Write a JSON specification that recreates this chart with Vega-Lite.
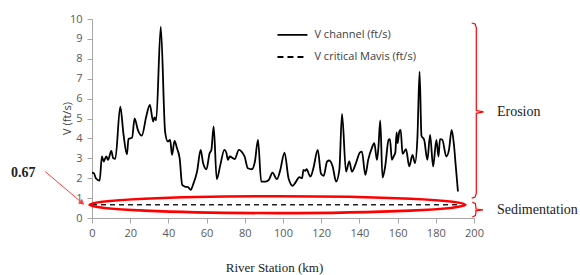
{
  "$schema": "https://vega.github.io/schema/vega-lite/v6.json",
  "width": 382,
  "height": 199,
  "autosize": {"type": "none"},
  "padding": {"left": 92, "top": 19, "right": 106, "bottom": 57},
  "background": "white",
  "config": {
    "view": {"stroke": null},
    "axis": {"labelOverlap": false, "labelFlush": false, "labelBound": false, "grid": false,
      "domainColor": "#A6A6A6", "tickColor": "#A6A6A6", "tickSize": 5,
      "labelColor": "#595959", "labelFont": "Open Sans", "labelFontSize": 11},
    "axisX": {"tickCount": 10, "labelPadding": 4},
    "axisY": {"tickCount": 10, "labelPadding": 5}
  },
  "datasets": {
    "vchannel": [
      {"km": 0, "v": 2.28}, {"km": 1.0, "v": 2.25}, {"km": 2.0, "v": 2.0}, {"km": 4.0, "v": 1.88},
      {"km": 5.2, "v": 3.1}, {"km": 6.1, "v": 2.84}, {"km": 7.5, "v": 3.1}, {"km": 8.4, "v": 2.92},
      {"km": 10.1, "v": 3.37}, {"km": 11.1, "v": 3.0}, {"km": 12.2, "v": 2.97}, {"km": 14.8, "v": 5.6},
      {"km": 16.5, "v": 4.2}, {"km": 18.3, "v": 3.2}, {"km": 19.1, "v": 3.97}, {"km": 21.0, "v": 4.04},
      {"km": 22.3, "v": 5.01}, {"km": 24.0, "v": 4.43}, {"km": 26.1, "v": 4.14}, {"km": 28.4, "v": 5.1},
      {"km": 30.3, "v": 5.68}, {"km": 32.0, "v": 4.85}, {"km": 32.7, "v": 5.05}, {"km": 33.6, "v": 4.91},
      {"km": 36.0, "v": 9.61}, {"km": 38.3, "v": 4.31}, {"km": 39.7, "v": 3.84}, {"km": 40.9, "v": 3.93},
      {"km": 41.9, "v": 3.17}, {"km": 43.2, "v": 3.88}, {"km": 44.5, "v": 3.5}, {"km": 45.9, "v": 3.0},
      {"km": 47.2, "v": 1.67}, {"km": 48.6, "v": 1.58}, {"km": 50.3, "v": 1.55}, {"km": 51.7, "v": 1.42},
      {"km": 52.9, "v": 1.67}, {"km": 55.0, "v": 2.33}, {"km": 56.9, "v": 3.42}, {"km": 58.1, "v": 2.79},
      {"km": 59.9, "v": 2.45}, {"km": 61.6, "v": 3.26}, {"km": 62.5, "v": 3.42}, {"km": 63.7, "v": 4.6},
      {"km": 65.3, "v": 1.95}, {"km": 67.2, "v": 2.67}, {"km": 69.3, "v": 3.42}, {"km": 70.3, "v": 3.29},
      {"km": 71.2, "v": 2.92}, {"km": 72.1, "v": 3.09}, {"km": 74.7, "v": 2.96}, {"km": 76.9, "v": 3.42},
      {"km": 78.3, "v": 3.34}, {"km": 79.9, "v": 3.09}, {"km": 81.6, "v": 2.5}, {"km": 83.7, "v": 2.45},
      {"km": 85.3, "v": 2.84}, {"km": 86.9, "v": 3.93}, {"km": 88.6, "v": 1.83}, {"km": 90.9, "v": 1.83},
      {"km": 92.6, "v": 1.92}, {"km": 94.5, "v": 2.28}, {"km": 96.8, "v": 1.95}, {"km": 98.5, "v": 2.38},
      {"km": 100.8, "v": 3.29}, {"km": 102.9, "v": 2.0}, {"km": 105.1, "v": 1.62}, {"km": 106.5, "v": 1.78},
      {"km": 108.6, "v": 2.05}, {"km": 110.0, "v": 2.0}, {"km": 110.7, "v": 2.42}, {"km": 111.6, "v": 2.37},
      {"km": 112.4, "v": 2.45}, {"km": 113.5, "v": 2.22}, {"km": 114.4, "v": 2.08}, {"km": 115.9, "v": 2.5},
      {"km": 118.2, "v": 3.42}, {"km": 119.9, "v": 2.22}, {"km": 121.3, "v": 2.12}, {"km": 123.1, "v": 2.84},
      {"km": 124.3, "v": 2.89}, {"km": 126.0, "v": 2.59}, {"km": 127.8, "v": 1.83}, {"km": 129.5, "v": 2.42},
      {"km": 130.9, "v": 5.23}, {"km": 133.0, "v": 2.33}, {"km": 134.7, "v": 2.84}, {"km": 136.1, "v": 2.33},
      {"km": 138.2, "v": 2.76}, {"km": 140.3, "v": 3.3}, {"km": 141.3, "v": 3.34}, {"km": 143.1, "v": 2.17},
      {"km": 144.6, "v": 2.92}, {"km": 146.5, "v": 3.51}, {"km": 147.8, "v": 3.76}, {"km": 149.2, "v": 2.92},
      {"km": 150.0, "v": 3.59}, {"km": 150.9, "v": 4.9}, {"km": 152.1, "v": 2.03}, {"km": 153.5, "v": 2.59},
      {"km": 155.3, "v": 3.93}, {"km": 156.0, "v": 3.96}, {"km": 157.0, "v": 2.92}, {"km": 157.9, "v": 3.09},
      {"km": 158.8, "v": 3.29}, {"km": 159.5, "v": 4.3}, {"km": 160.0, "v": 3.76}, {"km": 160.9, "v": 4.34},
      {"km": 161.6, "v": 4.43}, {"km": 162.6, "v": 3.22}, {"km": 164.4, "v": 3.46}, {"km": 166.1, "v": 2.59},
      {"km": 167.8, "v": 3.17}, {"km": 169.1, "v": 2.76}, {"km": 170.4, "v": 4.09}, {"km": 171.5, "v": 7.35},
      {"km": 172.5, "v": 4.13}, {"km": 173.9, "v": 3.93}, {"km": 175.6, "v": 2.92}, {"km": 177.0, "v": 4.18},
      {"km": 178.6, "v": 2.59}, {"km": 180.3, "v": 3.93}, {"km": 181.4, "v": 3.09}, {"km": 182.2, "v": 3.96},
      {"km": 183.4, "v": 3.93}, {"km": 185.5, "v": 3.09}, {"km": 186.9, "v": 3.42}, {"km": 188.3, "v": 4.43},
      {"km": 189.5, "v": 3.68}, {"km": 190.4, "v": 2.67}, {"km": 191.6, "v": 1.33}
    ],
    "vcritical": [{"km": 0, "v": 0.67}, {"km": 192, "v": 0.67}],
    "ellipse": [{"km": 97.1, "v": 0.67}],
    "legend": [
      {"km": 97.1, "km2": 112.8, "v": 9.2, "label": "V channel (ft/s)", "dash": "solid"},
      {"km": 97.1, "km2": 112.8, "v": 8.09, "label": "V critical Mavis (ft/s)", "dash": "dashed"}
    ],
    "arrow": [{"km": -24.5, "v": 2.33, "km2": -5.4, "v2": 0.78}],
    "arrowhead": [{"km": -5.2, "v": 0.76}],
    "braces": [
      {"brace": "e", "i": 1, "km": 198.8, "v": 9.8},
      {"brace": "e", "i": 2, "km": 200.6, "v": 9.75},
      {"brace": "e", "i": 3, "km": 201.2, "v": 9.55},
      {"brace": "e", "i": 4, "km": 201.2, "v": 5.4},
      {"brace": "e", "i": 5, "km": 205.0, "v": 5.33},
      {"brace": "e", "i": 6, "km": 201.2, "v": 5.26},
      {"brace": "e", "i": 7, "km": 201.2, "v": 1.25},
      {"brace": "e", "i": 8, "km": 200.6, "v": 1.05},
      {"brace": "e", "i": 9, "km": 198.8, "v": 1.0},
      {"brace": "s", "i": 1, "km": 199.1, "v": 0.8},
      {"brace": "s", "i": 2, "km": 200.7, "v": 0.72},
      {"brace": "s", "i": 3, "km": 201.0, "v": 0.55},
      {"brace": "s", "i": 4, "km": 201.0, "v": 0.45},
      {"brace": "s", "i": 5, "km": 204.7, "v": 0.41},
      {"brace": "s", "i": 6, "km": 201.0, "v": 0.37},
      {"brace": "s", "i": 7, "km": 201.0, "v": 0.25},
      {"brace": "s", "i": 8, "km": 200.7, "v": 0.12},
      {"brace": "s", "i": 9, "km": 199.1, "v": 0.05}
    ],
    "labels": [
      {"km": 212.0, "v": 5.33, "text": "Erosion"},
      {"km": 212.0, "v": 0.41, "text": "Sedimentation"}
    ],
    "bold": [{"km": -36, "v": 2.25, "text": "0.67"}]
  },
  "layer": [
    {
      "data": {"name": "vchannel"},
      "mark": {"type": "line", "color": "#000000", "strokeWidth": 1.8, "interpolate": "monotone"},
      "encoding": {
        "x": {
          "field": "km", "type": "quantitative",
          "scale": {"domain": [0, 200], "nice": false, "zero": false},
          "axis": {
            "title": "River Station (km)", "tickCount": 10,
            "titleFont": "Liberation Serif", "titleFontSize": 13, "titleFontWeight": "normal", "titleColor": "#222222",
            "titleX": 182, "titleY": 49, "titleBaseline": "middle", "titleAnchor": "middle"
          }
        },
        "y": {
          "field": "v", "type": "quantitative",
          "scale": {"domain": [0, 10], "nice": false},
          "axis": {
            "title": "V (ft/s)", "tickCount": 10, "labelOverlap": false,
            "titleFont": "Open Sans", "titleFontSize": 11, "titleFontWeight": "normal", "titleColor": "#404040",
            "titleX": -25, "titleY": 99, "titleBaseline": "middle", "titleAnchor": "middle"
          }
        }
      }
    },
    {
      "data": {"name": "vcritical"},
      "mark": {"type": "line", "color": "#222222", "strokeWidth": 1.5, "strokeDash": [5, 4]},
      "encoding": {
        "x": {"field": "km", "type": "quantitative"},
        "y": {"field": "v", "type": "quantitative"}
      }
    },
    {
      "data": {"name": "ellipse"},
      "mark": {
        "type": "point", "filled": false, "stroke": "#FF0000", "strokeWidth": 2.6, "opacity": 1,
        "shape": "M-1,0C-1,-0.0248,-0.552,-0.045,0,-0.045C0.552,-0.045,1,-0.0248,1,0C1,0.0248,0.552,0.045,0,0.045C-0.552,0.045,-1,0.0248,-1,0Z",
        "size": 141376
      },
      "encoding": {
        "x": {"field": "km", "type": "quantitative"},
        "y": {"field": "v", "type": "quantitative"}
      }
    },
    {
      "data": {"name": "legend"},
      "mark": {"type": "rule", "color": "#000000", "strokeWidth": 1.8},
      "encoding": {
        "x": {"field": "km", "type": "quantitative"},
        "x2": {"field": "km2"},
        "y": {"field": "v", "type": "quantitative"},
        "strokeDash": {
          "field": "dash", "type": "nominal",
          "scale": {"domain": ["solid", "dashed"], "range": [[1, 0], [6, 4]]},
          "legend": null
        }
      }
    },
    {
      "data": {"name": "legend"},
      "mark": {"type": "text", "align": "left", "baseline": "middle", "font": "Open Sans", "fontSize": 11, "color": "#404040", "dx": 7},
      "encoding": {
        "x": {"field": "km2", "type": "quantitative"},
        "y": {"field": "v", "type": "quantitative"},
        "text": {"field": "label"}
      }
    },
    {
      "data": {"name": "arrow"},
      "mark": {"type": "rule", "color": "#FF4040", "strokeWidth": 1},
      "encoding": {
        "x": {"field": "km", "type": "quantitative"},
        "x2": {"field": "km2"},
        "y": {"field": "v", "type": "quantitative"},
        "y2": {"field": "v2"}
      }
    },
    {
      "data": {"name": "arrowhead"},
      "mark": {"type": "point", "shape": "triangle-right", "filled": true, "color": "#FF4040", "size": 40, "angle": 40, "opacity": 1},
      "encoding": {
        "x": {"field": "km", "type": "quantitative"},
        "y": {"field": "v", "type": "quantitative"}
      }
    },
    {
      "data": {"name": "braces"},
      "mark": {"type": "line", "color": "#FF0000", "strokeWidth": 1.2},
      "encoding": {
        "x": {"field": "km", "type": "quantitative"},
        "y": {"field": "v", "type": "quantitative"},
        "detail": {"field": "brace"},
        "order": {"field": "i"}
      }
    },
    {
      "data": {"name": "labels"},
      "mark": {"type": "text", "align": "left", "baseline": "middle", "font": "Liberation Serif", "fontSize": 14, "color": "#222222"},
      "encoding": {
        "x": {"field": "km", "type": "quantitative"},
        "y": {"field": "v", "type": "quantitative"},
        "text": {"field": "text"}
      }
    },
    {
      "data": {"name": "bold"},
      "mark": {"type": "text", "align": "center", "baseline": "middle", "font": "Liberation Serif", "fontSize": 14, "fontWeight": "bold", "color": "#222222"},
      "encoding": {
        "x": {"field": "km", "type": "quantitative"},
        "y": {"field": "v", "type": "quantitative"},
        "text": {"field": "text"}
      }
    }
  ]
}
